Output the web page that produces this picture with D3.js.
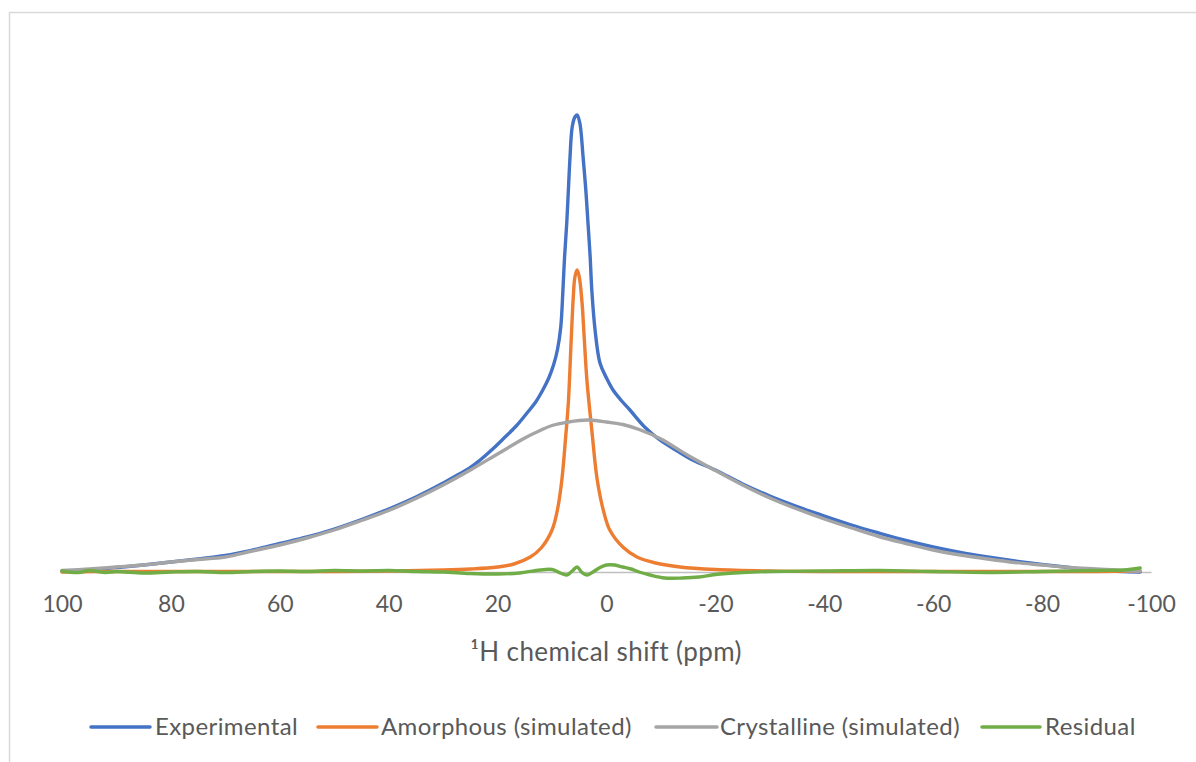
<!DOCTYPE html>
<html>
<head>
<meta charset="utf-8">
<script src="https://cdn.jsdelivr.net/npm/d3@7"></script>
<style>
  html, body { margin: 0; padding: 0; background: #fff; }
  svg { display: block; }
  text { font-family: Lato, "Open Sans", sans-serif; fill: #595959; }
</style>
</head>
<body>
<svg id="chart" width="1196" height="762"></svg>
<script>
// ---- Data ----
const seriesNames = ["Experimental", "Amorphous (simulated)", "Crystalline (simulated)", "Residual"];
const xTicks = [100, 80, 60, 40, 20, 0, -20, -40, -60, -80, -100];
const xTitle = "\u00B9H chemical shift (ppm)";

// Experimental
const expShift = [100, 95, 90, 85, 80, 75, 70, 65, 60, 55, 50, 45, 40, 35, 30, 25, 23.2, 21, 19, 16.5, 14.6, 13, 11.7, 10.6, 9.7, 9.0, 8.4, 8.0, 7.7, 7.3, 7.0, 6.7, 6.3, 5.8, 5.4, 4.9, 4.3, 3.8, 3.4, 3.0, 2.7, 2.1, 1.2, 0, -1.2, -2.8, -4.3, -7, -9.8, -13, -16, -20, -25, -30, -35, -40, -45, -50, -55, -60, -65, -70, -75, -80, -85, -90, -95, -98];
const expValue = [0.1, 0.4, 0.9, 1.4, 2.0, 2.6, 3.3, 4.4, 5.7, 7.0, 8.6, 10.5, 12.6, 15.0, 17.8, 20.9, 22.4, 24.5, 26.6, 29.3, 31.8, 34.0, 36.4, 38.8, 41.5, 44.5, 49.0, 56.4, 63.0, 69.8, 76.4, 83.0, 89.0, 91.0, 91.4, 89.8, 83.0, 76.4, 69.8, 63.0, 56.4, 48.4, 41.8, 38.8, 36.4, 34.2, 32.4, 29.0, 26.4, 24.2, 22.3, 20.4, 17.6, 15.2, 13.1, 11.2, 9.4, 7.8, 6.3, 5.0, 3.9, 3.0, 2.2, 1.5, 0.9, 0.3, 0.1, 0.0];

// Amorphous (simulated)
const amoShift = [100, 90, 80, 70, 60, 50, 40, 30, 25, 20, 17, 14, 12, 10, 9, 8.2, 7.5, 7.0, 6.5, 6.1, 5.8, 5.4, 5.0, 4.5, 4.1, 3.6, 2.7, 1.7, 0.5, -0.6, -3, -5.6, -9, -13.5, -20, -30, -40, -50, -60, -70, -80, -90, -98];
const amoValue = [0.0, 0.1, 0.1, 0.1, 0.1, 0.1, 0.2, 0.4, 0.6, 1.0, 1.6, 3.0, 4.8, 8.4, 12.5, 18.4, 27.0, 34.0, 46.0, 55.0, 59.0, 60.4, 59.0, 54.0, 47.0, 38.4, 28.4, 18.4, 12.0, 8.4, 5.0, 3.0, 1.8, 1.0, 0.5, 0.2, 0.1, 0.1, 0.1, 0.1, 0.1, 0.1, 0.2];

// Crystalline (simulated)
const cryShift = [100, 95, 90, 85, 80, 75, 70, 65, 60, 55, 50, 45, 40, 35, 30, 25, 20, 15, 12, 10, 7, 5, 3.4, 2, 0, -3, -6, -10, -15, -20, -25, -30, -35, -40, -45, -50, -55, -60, -65, -70, -75, -80, -85, -90, -95, -98];
const cryValue = [0.3, 0.6, 1.0, 1.4, 2.0, 2.5, 3.0, 4.2, 5.4, 6.8, 8.4, 10.3, 12.3, 14.7, 17.4, 20.4, 23.6, 26.8, 28.4, 29.3, 30.0, 30.3, 30.4, 30.3, 30.0, 29.5, 28.5, 26.6, 23.3, 20.3, 17.4, 14.8, 12.6, 10.6, 8.8, 7.1, 5.7, 4.4, 3.4, 2.6, 1.9, 1.4, 0.9, 0.6, 0.3, 0.2];

// Residual
const resShift = [100, 97, 95, 92, 90, 85, 80, 75, 70, 65, 60, 55, 50, 45, 40, 35, 30, 25, 20, 16, 12.2, 10, 8.5, 7.3, 6.3, 5.4, 4.5, 3.6, 2.5, 1.2, 0, -1.5, -3, -4.5, -6, -8, -10.7, -14, -17, -20, -25, -30, -40, -50, -60, -70, -80, -90, -95, -98];
const resValue = [0.2, -0.1, 0.3, -0.1, 0.1, -0.2, 0.0, 0.1, -0.1, 0.1, 0.2, 0.1, 0.3, 0.2, 0.3, 0.1, 0.0, -0.3, -0.4, -0.2, 0.4, 0.5, -0.2, -0.6, 0.2, 1.0, -0.1, -0.6, 0.0, 0.9, 1.4, 1.4, 1.0, 0.6, 0.0, -0.6, -1.2, -1.2, -1.0, -0.5, -0.1, 0.1, 0.2, 0.3, 0.1, -0.1, 0.1, 0.3, 0.4, 0.8];

const colors = ["#4472C4", "#ED7D31", "#A5A5A5", "#70AD47"];

// ---- Layout ----
const svg = d3.select("#chart");
const x = d3.scaleLinear().domain([100, -100]).range([62, 1151]);
const y = d3.scaleLinear().domain([0, 100]).range([572, 72]);

// chart area border (right/bottom edges fall outside the picture)
svg.append("rect")
  .attr("x", 9.5).attr("y", 12.5)
  .attr("width", 1300).attr("height", 900)
  .attr("fill", "#fff").attr("stroke", "#d9d9d9").attr("stroke-width", 1.5);

// x axis
const xAxis = d3.axisBottom(x).tickValues(xTicks).tickSize(0).tickPadding(24)
  .tickFormat(d => String(d));
const gAx = svg.append("g").attr("transform", `translate(0,${y(0)})`).call(xAxis);
gAx.select(".domain").attr("stroke", "#bfbfbf").attr("stroke-width", 1.5);
gAx.selectAll("text").attr("font-size", 23).attr("font-family", "Lato").attr("fill", "#595959");

svg.append("text")
  .attr("x", 606).attr("y", 661)
  .attr("text-anchor", "middle")
  .attr("font-size", 26)
  .attr("letter-spacing", 0.4)
  .text(xTitle);

// series
const series = [
  [expShift, expValue],
  [amoShift, amoValue],
  [cryShift, cryValue],
  [resShift, resValue]
];
const line = d3.line().x(d => x(d[0])).y(d => y(d[1])).curve(d3.curveCatmullRom.alpha(0.5));
series.forEach((s, i) => {
  const pts = s[0].map((v, k) => [v, s[1][k]]);
  svg.append("path")
    .datum(pts)
    .attr("d", line)
    .attr("fill", "none")
    .attr("stroke", colors[i])
    .attr("stroke-width", 3.4)
    .attr("stroke-linejoin", "round")
    .attr("stroke-linecap", "round");
});

// legend
const legendItems = [
  {x0: 91, x1: 150, tx: 155},
  {x0: 318, x1: 377, tx: 381},
  {x0: 656, x1: 717, tx: 720},
  {x0: 982, x1: 1040, tx: 1045}
];
const lg = svg.append("g");
legendItems.forEach((it, i) => {
  lg.append("line")
    .attr("x1", it.x0).attr("x2", it.x1)
    .attr("y1", 727).attr("y2", 727)
    .attr("stroke", colors[i]).attr("stroke-width", 3.5)
    .attr("stroke-linecap", "round");
  lg.append("text")
    .attr("x", it.tx).attr("y", 735)
    .attr("font-size", 24)
    .attr("letter-spacing", 0.4)
    .text(seriesNames[i]);
});
</script>
</body>
</html>
